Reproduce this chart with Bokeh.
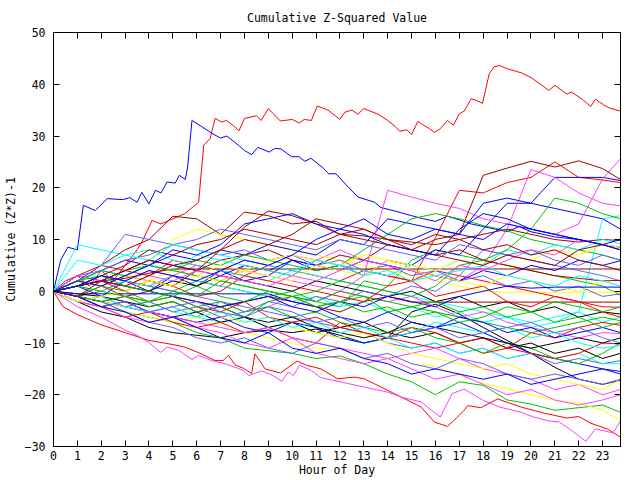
from bokeh.plotting import figure
from bokeh.models import Range1d, FixedTicker, LinearAxis
from bokeh.embed import file_html
from bokeh.resources import INLINE

TITLE = "Cumulative Z-Squared Value"
X_LABEL = "Hour of Day"
Y_LABEL = "Cumulative (Z*Z)-1"
X_TICKS = list(range(24))
Y_TICKS = [-30, -20, -10, 0, 10, 20, 30, 40, 50]
X_MIN, X_MAX = 0, 23.75
Y_MIN, Y_MAX = -30, 50

HOURS = list(range(24)) + [23.75]

# gnuplot-like colours
RED = "#ff0000"; GREEN = "#00c000"; BLUE = "#0000ff"; MAGENTA = "#ff40ff"
CYAN = "#00ffff"; DARKRED = "#a00000"; YELLOW = "#ffff00"; BLACK = "#000000"; LBLUE = "#6060ff"

# prominent traces read at their break points (hour, value)
RED_TOP = [(0,0),(0.5,2),(1,3),(1.5,1),(2,4),(2.5,2),(3,5),(3.5,8),(3.7,9.5),(4.0,12.4),(4.13,13.7),(4.5,13),
           (5.0,14),(5.5,15),(6.08,17.2),(6.29,28.2),(6.56,29.5),(6.77,33.4),(7.05,32.7),(7.25,33),(7.54,32),
           (7.77,31),(8.0,33.4),(8.5,33.9),(8.7,33),(9.0,35.3),(9.5,32.9),(10.0,33.2),(10.3,32.5),(10.5,33.2),
           (10.8,33.0),(11.05,35.8),(11.5,35.0),(12.0,33.2),(12.2,34.6),(12.5,35.0),(12.75,34.2),(13.0,35.3),
           (13.6,34.2),(14.0,33.0),(14.3,31.9),(14.5,30.9),(14.8,31.2),(15.0,30.3),(15.26,32.8),(15.75,31.4),
           (15.95,30.7),(16.2,31.4),(16.5,33.0),(16.75,32.1),(17.0,34.3),(17.2,34.8),(17.5,37.2),(17.7,36.9),
           (17.97,36.3),(18.25,42.0),(18.46,43.4),(18.7,43.6),(19.0,43.0),(19.6,42.2),(20.0,41.3),(20.4,40.0),
           (20.75,38.8),(21.0,39.8),(21.5,38.1),(21.7,38.5),(22.15,37.1),(22.5,35.7),(22.7,37.1),(23.05,36.0),
           (23.3,35.4),(23.75,34.8)]
BLUE_TOP = [(0,0),(0.3,6),(0.6,8.5),(1.0,8),(1.25,16.6),(1.75,15.6),(2.25,17.9),(2.9,17.7),(3.2,18.1),(3.5,17.2),
            (3.7,19.1),(4.0,16.9),(4.27,19.5),(4.5,19.0),(4.76,21.1),(5.1,20.9),(5.27,22.4),(5.52,21.6),(5.62,24.0),
            (5.8,33.0),(6.15,32.0),(6.64,30.5),(7.0,29.6),(7.26,30.0),(7.75,28.2),(8.0,27.2),(8.3,26.4),(8.56,27.8),
            (9.04,26.9),(9.28,27.6),(9.53,27.5),(9.97,26.0),(10.28,26.0),(10.53,25.1),(10.78,25.7),(11.3,23.8),
            (11.53,22.7),(11.83,22.7),(12.35,20.1),(12.76,18.2),(13.45,17.2),(13.7,16.2),(14.3,15.5),(15.0,14.6),
            (15.5,14.0),(16.0,13.5),(16.5,14.5),(17.0,13.8),(17.5,13.0),(18.0,12.5),(18.5,12.0),(19.0,11.5),
            (19.5,12.5),(20.0,11.5),(21.0,10.5),(22.0,10.0),(23.0,9.0),(23.75,8.5)]
RED_LOW = [(0,0),(0.4,-3),(1,-4.5),(2,-6.5),(3,-8),(4,-9.5),(5,-10.3),(5.5,-10.8),(6.2,-12.1),(6.77,-13.4),
           (7.1,-13.4),(7.33,-12.4),(7.6,-14.2),(7.96,-14.9),(8.3,-15.9),(8.44,-12.1),(8.86,-15.0),(9.5,-15.8),
           (10.2,-13.5),(10.6,-14.3),(11.2,-15.0),(11.9,-16.9),(12.6,-16.6),(13.0,-16.9),(13.45,-17.9),
           (14.15,-19.5),(14.85,-21.1),(15.4,-22.4),(15.96,-25.3),(16.5,-26.1),(16.86,-24.6),(17.2,-23.0),
           (17.35,-22.1),(17.9,-22.5),(18.6,-20.8),(19.6,-22.4),(20.5,-23.5),(21.5,-24.5),(22.0,-24.2),
           (22.5,-25.5),(23.2,-26.6),(23.75,-28.2)]
MAG_LOW = [(0,0),(0.5,-1.5),(1,-3),(2,-5),(3,-7.5),(3.5,-8.5),(4,-9.9),(4.48,-11.8),(4.76,-10.8),(5.24,-11.4),
           (5.8,-13.2),(6.08,-12.4),(6.64,-13.4),(7.19,-14.0),(7.6,-14.7),(7.96,-15.3),(8.17,-16.3),(8.72,-15.4),
           (9.2,-16.3),(9.56,-17.4),(9.84,-15.6),(10.05,-16.3),(10.3,-14.3),(10.8,-15.3),(11.2,-16.7),(12,-17.5),
           (13,-18.5),(14,-19.5),(14.6,-20.5),(15.4,-21.4),(16.2,-24.3),(16.7,-19.8),(17.2,-18.9),(18.0,-21.1),
           (18.7,-22.4),(19.6,-23.4),(20.1,-24.3),(20.7,-25.0),(21.2,-25.3),(21.7,-26.9),(22.3,-29.0),
           (22.7,-26.6),(23.1,-27.0),(23.45,-27.4),(23.75,-25.0)]

# remaining traces, read at each hour (0..23, 23.75)
R3 = [0,3,5,4,3, 6,5,4,3,5, 4,3,2,4,3, 2,10.4,19.5,19.0,21, 22,25,22,21.5,21]
R4 = [0,-1,0,2,1, 3,2,1,5,4, 3,6,5,4,3, 2,4,3,2,1, 0,-1,-2,-3,-3.1]
R5 = [0,-2,-3,-5,-4, -6,-7,-6,-8,-7, -9,-10,-6,-8,-9, -10,-11,-10,-12,-11, -8,-9,-7,-6,-6.6]
R6 = [0,2,1,-1,-2, -1,-3,-4,-2,-5, -6,-5,-7,-8,-9, -7,-8,-10,-9,-11, -12,-13,-12,-10,-10.2]
R7 = [0,1,2,0,2, 1,-1,0,3,2, 1,0,-1,-2,1, 2,-1,0,1,-2, -3,-1,-2,-4,-5]
G1 = [0,-1,-2,-4,-5, -6,-8,-9,-11,-11.5, -12,-13,-12.5,-14,-16, -17.5,-20,-17.5,-18.2,-21, -21.8,-23,-22.5,-22,-23.4]
G2 = [0,1,3,2,1, 0,2,1,0,-1, 0,-2,-3,2,1, 6,8,7,6,5, 4,3,2,1,-0.8]
G3 = [0,1,2,4,5, 4,6,5,7,6, 5,4,5,8,11, 14,15,14,12.7,11.7, 10,9,8,7,6]
G4 = [0,-1,1,0,-2, -1,-3,-2,-4,-3, -5,-4,-6,-7,-8, -7,-9,-10,-12,-10, -11,-13,-14,-12,-10]
G5 = [0,2,4,3,5, 4,3,2,1,0, -1,-2,0,-1,-2, -3,-4,-5,-6,-7, -8,-7,-6,-5,-5.7]
G6 = [0,-1,-2,-1,-3, -2,-4,-3,-5,-2, -1,0,2,1,0, -1,1,5,6,8, 12,18,17,15,14]
G7 = [0,1,0,-1,-2, 0,-1,2,1,0, -1,-3,-2,-4,-3, -5,-4,-6,-5,-3, -4,-2,-3,-4,-3]
G8 = [0,2,3,1,0, -1,1,-1,-2,0, -1,-3,-2,-1,-4, -3,-2,-4,-3,-5, -4,-6,-5,-7,-6]
B2 = [0,1,-1,2,0, 3,1,4,2,3, 6,4,5,3,6, 5,8,7,12,17, 17,22,22,22,21.4]
B3 = [0,2,4,6,5, 7,6,8,7,9, 8,7,10,9,14, 13,12,11,17,18, 17,16,15,14,12]
B4 = [0,-1,-2,-3,-4, -5,-6,-5,-7,-8, -6,-7,-9,-10,-9, -8,-7,-6,-8,-10, -12,-13,-14,-15,-15.5]
B5 = [0,3,2,4,6, 5,4,3,5,4, 6,5,4,6,5, 4,3,2,4,3, 5,4,6,5,5.9]
B6 = [0,-0.5,-0.5,-0.5,-0.5, -0.5,-0.5,-0.5,-0.5,-0.5, -2,-3,-5,-6,-4, -6,-7,-5,-6,-8, -7,-9,-8,-7,-8]
B7 = [0,1,2,1,0, -1,-2,-3,-2,-1, -3,-4,-2,-3,-1, -2,-3,-1,0,1, 0.6,0.8,0.8,0.8,0.8]
B8 = [0,-1,-3,-4,-6, -5,-7,-9,-10,-8, -11,-12,-11,-13,-14, -16,-15,-16,-17,-16, -18,-17,-16,-15,-16]
B9 = [0,2,1,3,5, 8,7,9,13,14, 15,13,12,14,11, 10,12,11,10,13, 12,11,10,9,8]
B10 = [0,1,3,2,4, 3,2,4,6,5, 7,10,12,11,9, 8,7,12,15,14, 12,11,10,9,10]
M2 = [0,-1,-3,-2,-4, -3,-5,-2,-4,-3, -1,-2,0,3,19.5, 18.2,17,16,14,13, 12,11,13,21.7,25.6]
M3 = [0,1,3,2,4, 3,5,4,6,5, 7,6,8,6,5, 4,3,2,5,12, 23.5,22,19,17,16.5]
M4 = [0,-1,-2,-3,-4, -5,-6,-7,-8,-7, -9,-10,-11,-12,-13, -12,-11,-13,-15,-16, -17,-19,-18,-20,-19]
M5 = [0,2,1,3,5, 4,3,2,4,3, 2,1,0,-1,-2, -1,-3,-5,-4,-6, -7,-8,-9,-8,-8.2]
M6 = [0,-2,-3,-5,-6, -5,-7,-8,-10,-11, -9,-12,-13,-14,-13, -15,-17,-16,-18,-20, -19,-21,-22,-21,-20]
M7 = [0,3,2,1,3, 2,4,3,2,1, 3,2,4,6,5, 4,2,5,4,6, 8,7,10,9,8]
C1 = [0,9,8,7,8, 6,5,4,3,2, 4,3,2,1,0, -1,-2,-3,-4,-5, -6,-5,-4,-6,-5]
C2 = [0,-1,-2,-3,-2, -4,-5,-6,-5,-7, -6,-8,-9,-10,-9, -11,-10,-12,-11,-13, -12,-13,-12,-14,-14]
C3 = [0,1,0,2,1, 3,2,1,0,-1, -2,-1,-3,-2,-4, -3,-5,-4,-6,-5, -7,-6,-4,14,14.6]
C4 = [0,2,4,3,5, 4,7,6,5,4, 3,6,5,4,3, 5,4,6,5,8, 7,9,8,10,9.2]
C5 = [0,-2,-1,-3,-4, -3,-5,-4,-6,-5, -7,-6,-8,-7,-9, -8,-6,-7,-8,-7, -9,-8,-10,-11,-10.5]
C6 = [0,6,5,7,6, 9,8,7,6,5, 4,6,5,3,4, 2,3,4,5,3, 2,1,3,2,1]
D1 = [0,2,5,8,10, 14.5,14,11,15.3,14.6, 13,13.5,11,10.7,10, 9.5,9,10,11,12, 11,10,9.5,10,9.8]
D2 = [0,-1,1,3,2, 1,4,6,7,8, 6,5,7,6,9, 8,10,11,22.4,23.8, 25.1,24,25.2,23.7,21.6]
D3 = [0,1,2,2.5,3.5, 4.3,4.3,4.3,4.3,4.3, 4.3,4.3,4.3,4.3,4.3, 4.3,4.3,4.3,4.3,4.3, 4.3,4.3,4.3,4.3,4.3]
D4 = [0,-1,-2,-1,0, -1,-2,-3,-2,-1, -2,-3,-4,-2,-1, -2.1,-2.1,-2.1,-2.1,-2.1, -2.1,-2.1,-2.1,-2.1,-2.1]
D5 = [0,1,3,5,8, 7,9,10,12,11, 10,9,11,10,9, 8,7,8,6,5, 4,3,2.5,2,2.1]
D6 = [0,1,2,1,3, 5,6,8,12.4,15.5, 14.6,13,11,12,10, 8,7,6,5,7, 6,5,8,9,8]
D7 = [0,-1,2,4,6, 5,4,8,10,9, 11,14,13,12,10, 9,11,10,8,9, 7,8,6,5,4]
Y1 = [0,-1,-3,-4,-5, -6,-5,-7,-8,-9, -10,-11,-11,-13,-12, -14,-14.5,-16.3,-17.8,-18.8, -20,-21.1,-21.6,-23,-25]
Y2 = [0,1,2,4,6, 10,12,11,10,9, 8,7,6,5,4, 3,2,1,0,-0.2, -0.2,-0.2,-0.2,-0.2,-0.2]
Y3 = [0,-1,-2,-3,-2, -4,-3,-5,-6,-5, -7,-8,-9,-8,-10, -12,-13,-14,-15,-14, -16,-17,-18,-19,-17]
Y4 = [0,2,1,3,2, 4,3,5,4,6, 7,6,5,7,6, 5,4,6,5,7, 6,8,7,9,8.5]
Y5 = [0,-2,-1,0,2, 1,3,2,4,3, 2,5,4,3,6, 4,3,2,1,3, 2,1,0,2,1]
K1 = [0,-2,-4,-5,-7, -8,-8.5,-9,-8,-7.5, -8,-7.3,-8.5,-10,-9, -4,-2.5,-4.4,-7,-9.5, -12,-14.7,-17,-18,-17.2]
K2 = [0,-1,-3,-2,-4, -5,-4,-6,-5,-7, -6,-8,-7,-6,-8, -9,-8,-10,-9,-11, -10,-12,-11,-13,-12]
K3 = [0,1,2,1,0, 2,1,3,2,1, 0,2,1,0,-1, 0,-2,-1,-3,-2, -4,-3,-5,-4,-4.4]
K4 = [0,-0.5,-1,-2,-3, -2,-4,-3,-5,-6, -5,-7,-8,-9,-8, -6,-7,-8,-9,-10, -11,-10,-9,-10,-9]
L1 = [0,1,3,2,1, 0,-1,-2,-3,-4, -5,-6,-7,-8,-10, -11,-10,-12,-11,-13, -12,-14,-13,-14,-13.4]
L2 = [0,2,5,11,10, 9,8,7,8,6, 7,5,6,4,5, 3,4,2,3,1, 2,0,1,-1,-0.5]
L3 = [0,-1,-2,-4,-6, -7,-9,-10,-9,-11, -12,-10,-11,-13,-12, -14,-15,-13,-14,-16, -17,-16,-17,-18,-17]
L4 = [0,-2,-1,-3,-2, -4,-3,-5,-4,-2, -3,-1,-2,0,-1, 1,0,3,8,7, 6,5,4,3,2]
L5 = [0,3,4,6,7, 9,10,12,11,10, 9,8,10,9,8, 7,6,9,8,7, 8,6,5,7,6]
L6 = [0,-1,-3,-2,-4, -3,-2,-4,-5,-3, -4,-6,-5,-7,-6, -8,-7,-9,-8,-7, -6,-8,-7,-9,-10]

HOURLY = [
    (R3, RED), (G2, GREEN), (B2, BLUE), (M3, MAGENTA), (C1, CYAN), (D1, DARKRED), (Y2, YELLOW), (K1, BLACK), (L1, LBLUE),
    (R4, RED), (G1, GREEN), (B3, BLUE), (M2, MAGENTA), (C2, CYAN), (D2, DARKRED), (Y1, YELLOW), (K2, BLACK), (L2, LBLUE),
    (R5, RED), (G3, GREEN), (B4, BLUE), (M4, MAGENTA), (C3, CYAN), (D3, DARKRED), (Y3, YELLOW), (K3, BLACK), (L3, LBLUE),
    (R6, RED), (G4, GREEN), (B5, BLUE), (M5, MAGENTA), (C4, CYAN), (D4, DARKRED), (Y4, YELLOW), (K4, BLACK), (L4, LBLUE),
    (R7, RED), (G5, GREEN), (B6, BLUE), (M6, MAGENTA), (C5, CYAN), (D5, DARKRED), (Y5, YELLOW), (L5, LBLUE),
    (G6, GREEN), (B7, BLUE), (M7, MAGENTA), (C6, CYAN), (D6, DARKRED), (L6, LBLUE),
    (G7, GREEN), (B8, BLUE), (D7, DARKRED), (G8, GREEN), (B9, BLUE), (B10, BLUE),
]
FEATURED = [(RED_TOP, RED), (BLUE_TOP, BLUE), (RED_LOW, RED), (MAG_LOW, MAGENTA)]

FONT = "DejaVu Sans Mono"
FS = "11.5px"

p = figure(width=640, height=480, output_backend="svg", toolbar_location=None,
           x_range=Range1d(X_MIN, X_MAX), y_range=Range1d(Y_MIN, Y_MAX),
           min_border_left=51, min_border_right=20, min_border_top=32, min_border_bottom=34)
p.background_fill_color = "white"
p.border_fill_color = "white"
p.grid.visible = False
p.outline_line_color = "black"
p.outline_line_width = 1

p.title.text = TITLE
p.title.align = "center"
p.title.text_font = FONT
p.title.text_font_size = FS
p.title.text_font_style = "normal"
p.title.text_color = "black"
p.title.standoff = 16

for pts, col in FEATURED:
    xs = [a for a, b in pts]
    ys = [b for a, b in pts]
    p.line(xs, ys, line_color=col, line_width=1)
for ys, col in HOURLY:
    p.line(HOURS, ys, line_color=col, line_width=1)

def style(ax, labels=True):
    ax.major_tick_in = 6
    ax.major_tick_out = 0
    ax.minor_tick_in = 0
    ax.minor_tick_out = 0
    ax.axis_line_color = "black"
    ax.major_tick_line_color = "black"
    ax.major_label_text_font = FONT
    ax.major_label_text_font_size = FS if labels else "0px"
    ax.major_label_text_color = "black"
    ax.axis_label_text_font = FONT
    ax.axis_label_text_font_size = FS
    ax.axis_label_text_font_style = "normal"
    ax.axis_label_text_color = "black"

p.xaxis.ticker = FixedTicker(ticks=X_TICKS)
p.yaxis.ticker = FixedTicker(ticks=Y_TICKS)
style(p.xaxis[0]); style(p.yaxis[0])
p.xaxis.axis_label = X_LABEL
p.yaxis.axis_label = Y_LABEL
p.xaxis.major_label_standoff = 4
p.xaxis.axis_label_standoff = 0
p.yaxis.major_label_standoff = 8
p.yaxis.axis_label_standoff = 4

# mirrored inward ticks on the top and right borders
top = LinearAxis(ticker=FixedTicker(ticks=X_TICKS), major_label_standoff=0)
right = LinearAxis(ticker=FixedTicker(ticks=Y_TICKS), major_label_standoff=0)
style(top, False); style(right, False)
p.add_layout(top, "above")
p.add_layout(right, "right")

open("out.html", "w").write(file_html(p, INLINE))
